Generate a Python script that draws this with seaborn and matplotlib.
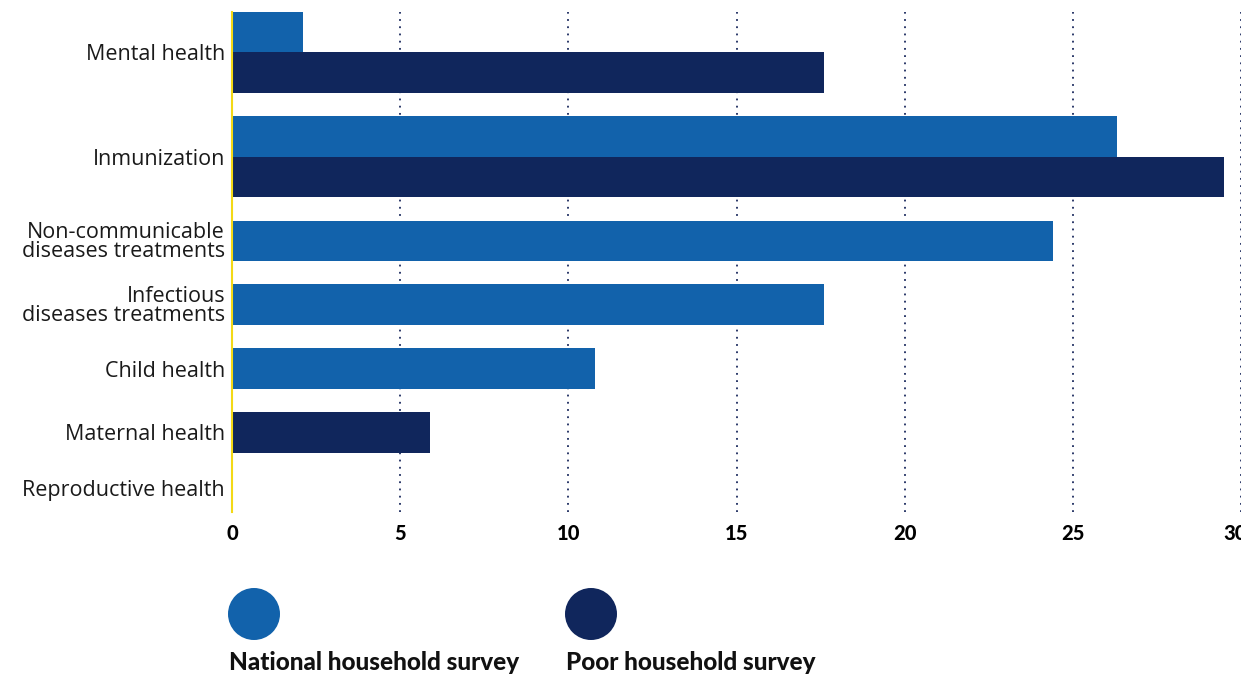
import pandas as pd
import numpy as np
import matplotlib
matplotlib.use("Agg")
import matplotlib.pyplot as plt
import matplotlib.transforms as mtransforms
from matplotlib.patches import Circle
import seaborn as sns

# Data
categories = ["Mental health", "Inmunization", "Non-communicable\ndiseases treatments",
              "Infectious\ndiseases treatments", "Child health", "Maternal health",
              "Reproductive health"]
national = [2.1, 26.3, 24.4, 17.6, 10.8, 0, 0]
poor = [17.6, 29.5, 0, 0, 0, 5.9, 0]
series_names = ["National household survey", "Poor household survey"]
colors = ["#1262ab", "#10265c"]
x_ticks = [0, 5, 10, 15, 20, 25, 30]

sns.set_theme(style="white")
plt.rcParams["font.family"] = ["Open Sans", "DejaVu Sans"]

# Build long table; rows only get as tall as the bars they hold
pad = 0.58
rows = []
centers = []
cursor = 0.0
for i, cat in enumerate(categories):
    vals = [(series_names[0], national[i]), (series_names[1], poor[i])]
    vals = [(s, v) for s, v in vals if v > 0]
    n = len(vals)
    h = max(n, 0.6) + pad
    c = cursor + h / 2
    centers.append(c)
    for j, (s, v) in enumerate(vals):
        rows.append({"category": cat, "survey": s, "value": v,
                     "pos": c - n / 2 + 0.5 + j})
    cursor += h
df = pd.DataFrame(rows)

fig = plt.figure(figsize=(12.41, 6.75), dpi=100)
ax = fig.add_axes([232 / 1241, 1 - 512 / 675, 1 - 232 / 1241, 500 / 675])

sns.barplot(data=df, x="value", y="pos", hue="survey", orient="y",
            native_scale=True, dodge=False, width=1.0, errorbar=None,
            palette=dict(zip(series_names, colors)), hue_order=series_names,
            saturation=1, legend=False, ax=ax, linewidth=0)

ax.set_xlim(0, 30)
ax.set_ylim(cursor, pad / 2)
ax.set_xticks(x_ticks)
ax.set_xticklabels([str(t) for t in x_ticks], fontweight="black", fontsize=14.5,
                   color="black", family=["Lato", "DejaVu Sans"])
ax.set_yticks(centers)
ax.set_yticklabels(categories, fontsize=15.5, color="#1a1a1a", linespacing=0.85)
ax.tick_params(axis="both", length=0)
ax.tick_params(axis="x", pad=9)
ax.tick_params(axis="y", pad=5)
ax.set_xlabel("")
ax.set_ylabel("")

# the last tick label sits at the figure edge; nudge it in a little
last = ax.get_xticklabels()[-1]
last.set_transform(last.get_transform() +
                   mtransforms.ScaledTranslation(-6 / 100, 0, fig.dpi_scale_trans))

ax.grid(axis="x", linestyle=(0, (1, 3)), color="#1b2a5e", linewidth=1.3)
ax.grid(axis="y", visible=False)
ax.set_axisbelow(True)
for side in ["top", "right", "bottom"]:
    ax.spines[side].set_visible(False)
ax.spines["left"].set_color("#f3d916")
ax.spines["left"].set_linewidth(1.5)

# Legend: circle swatch above bold label
leg = fig.add_axes([0, 0, 1, 94.5 / 675])
leg.set_xlim(0, 1241)
leg.set_ylim(675, 580.5)
leg.axis("off")
for name, col, x0 in zip(series_names, colors, [229, 566]):
    leg.add_patch(Circle((x0 + 25, 614), 26, color=col, lw=0))
    leg.text(x0, 663, name, fontsize=17.5, fontweight="black", color="#111111",
             ha="left", va="center", family=["Lato", "DejaVu Sans"])

fig.savefig("out.png", dpi=100)
